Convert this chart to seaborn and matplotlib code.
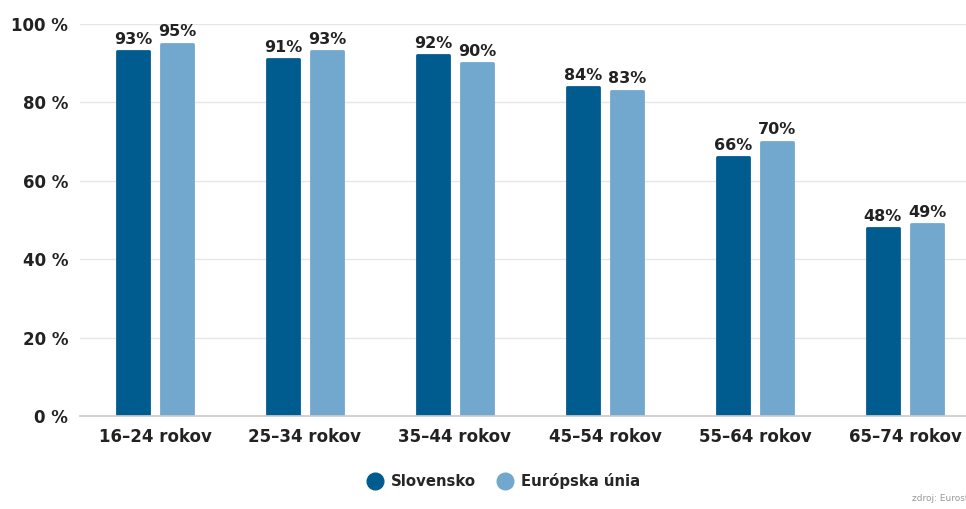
import matplotlib
matplotlib.use("Agg")
import matplotlib.pyplot as plt
import seaborn as sns
import pandas as pd

# data
age_groups = ["16–24 rokov", "25–34 rokov", "35–44 rokov", "45–54 rokov", "55–64 rokov", "65–74 rokov"]
slovensko = [93, 91, 92, 84, 66, 48]
eu = [95, 93, 90, 83, 70, 49]
series = ["Slovensko", "Európska únia"]
colors = ["#005b8f", "#72a8cd"]

df = pd.DataFrame({
    "group": age_groups * 2,
    "value": slovensko + eu,
    "series": [series[0]] * len(age_groups) + [series[1]] * len(age_groups),
})

sns.set_theme(style="white")
plt.rcParams["font.family"] = ["DejaVu Sans"]

fig = plt.figure(figsize=(9.66, 5.09), dpi=100)
ax = fig.add_axes([80 / 966, 1 - 416 / 509, 1 - 80 / 966, (416 - 24) / 509])

sns.barplot(data=df, x="group", y="value", hue="series", palette=colors,
            width=0.59, gap=0.26, ax=ax, legend=False, saturation=1)

# rounded corners via a round-joined edge in the face colour
for bar in ax.patches:
    bar.set_edgecolor(bar.get_facecolor())
    bar.set_linewidth(2)
    bar.set_joinstyle("round")

for bar in ax.patches:
    h = bar.get_height()
    if h > 0:
        ax.annotate(f"{int(round(h))}%", (bar.get_x() + bar.get_width() / 2, h),
                    xytext=(0, 3), textcoords="offset points",
                    ha="center", va="bottom", fontsize=11.5, fontweight="bold",
                    color="#222222")

ax.set_ylim(0, 100)
ax.set_xlim(-0.5, (966 - 155) / 150)
ax.set_yticks(range(0, 101, 20))
ax.set_yticklabels([f"{v} %" for v in range(0, 101, 20)])
ax.set_xlabel("")
ax.set_ylabel("")
ax.yaxis.grid(True, color="#e6e6e6", linewidth=1)
ax.set_axisbelow(True)
for s in ["top", "right", "left"]:
    ax.spines[s].set_visible(False)
ax.spines["bottom"].set_color("#cccccc")
ax.tick_params(axis="y", length=0, pad=8.5, labelsize=12, labelcolor="#222222")
ax.tick_params(axis="x", length=0, pad=9, labelsize=12, labelcolor="#222222")
for lbl in ax.get_xticklabels() + ax.get_yticklabels():
    lbl.set_fontweight("bold")

handles = [plt.Line2D([], [], marker="o", linestyle="", markersize=12,
                      markerfacecolor=c, markeredgecolor=c) for c in colors]
fig.legend(handles, series, loc="center", bbox_to_anchor=(500 / 966, 1 - 481 / 509),
           ncol=2, frameon=False, handletextpad=0.1, columnspacing=0.9,
           prop={"weight": "bold", "size": 10.7})

fig.text(912 / 966, 1 - 503 / 509, "zdroj: Eurostat", fontsize=6.5, color="#999999",
         ha="left", va="bottom")

fig.savefig("out.png", dpi=100)
